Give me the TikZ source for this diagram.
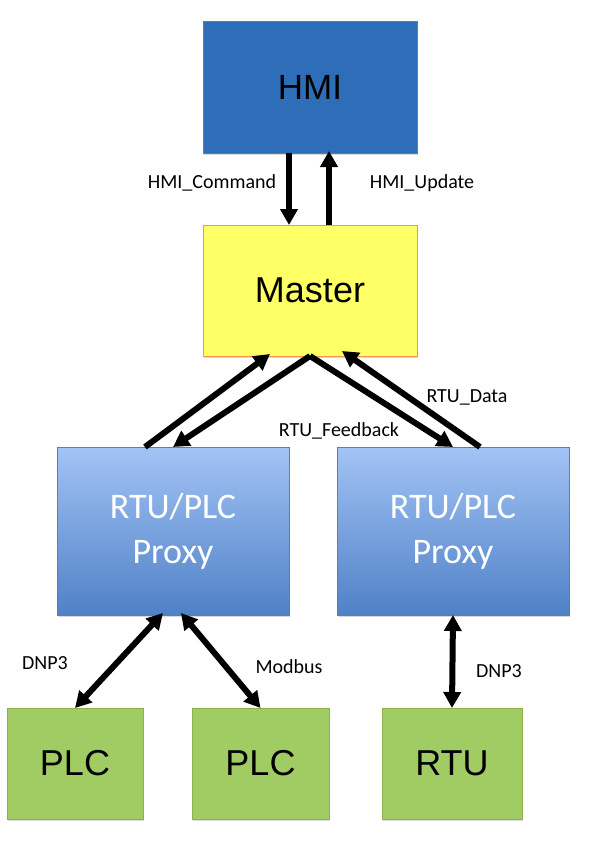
\documentclass[tikz,border=0pt]{standalone}
\usepackage{fontspec}
\usepackage{tikz}
\usetikzlibrary{calc,arrows.meta,shadows}
\newfontfamily\boxfont{Liberation Sans}
\newfontfamily\calfont{Carlito}
\definecolor{hmiblue}{RGB}{46,110,184}
\definecolor{hmiedge}{RGB}{79,129,189}
\definecolor{masteryellow}{RGB}{255,255,102}
\definecolor{masteredge}{RGB}{247,150,70}
\definecolor{proxytop}{RGB}{163,195,245}
\definecolor{proxybot}{RGB}{79,129,199}
\definecolor{proxyedge}{RGB}{79,129,189}
\definecolor{devgreen}{RGB}{161,203,99}
\definecolor{devedge}{RGB}{143,176,79}
\begin{document}
\begin{tikzpicture}[x=1pt,y=-1pt,
    box/.style={rectangle,inner sep=0pt,outer sep=0pt,line width=1pt,
      drop shadow={shadow xshift=1pt,shadow yshift=-2pt,opacity=.3}},
    big/.style={font=\boxfont\fontsize{36}{40}\selectfont},
    conn/.style={line width=6pt,-{Triangle[length=16pt,width=17pt]}},
    bothconn/.style={line width=6pt,{Triangle[length=16pt,width=17pt]}-{Triangle[length=16pt,width=17pt]}},
    lbl/.style={font=\calfont\fontsize{20}{23}\selectfont,inner sep=0pt}]
                 \useasboundingbox (0,0) rectangle (612,846);
                 % boxes
                 \node[box,draw=hmiedge,fill=hmiblue,minimum width=214pt,minimum height=132pt,big,font=\boxfont\fontsize{35}{40}\selectfont](hmi)at(310,87){HMI};
                 \node[box,draw=masteredge,fill=masteryellow,minimum width=214pt,minimum height=131pt,big](master)at(310,290.5){Master};
                 \node[box,draw=proxyedge,top color=proxytop,bottom color=proxybot,minimum width=232pt,minimum height=168pt,
                   text=white,align=center,font=\calfont\fontsize{36}{45}\selectfont](proxyl)at(173,531){RTU/PLC\\Proxy};
                 \node[box,draw=proxyedge,top color=proxytop,bottom color=proxybot,minimum width=232pt,minimum height=168pt,
                   text=white,align=center,font=\calfont\fontsize{36}{45}\selectfont](proxyr)at(453,531){RTU/PLC\\Proxy};
                 \node[box,draw=devedge,fill=devgreen,minimum width=136pt,minimum height=111pt,big](plca)at(75,763.5){PLC};
                 \node[box,draw=devedge,fill=devgreen,minimum width=137pt,minimum height=111pt,big](plcb)at(260.5,763.5){PLC};
                 \node[box,draw=devedge,fill=devgreen,minimum width=140pt,minimum height=111pt,big](rtu)at(452,763.5){RTU};
                 % HMI <-> Master
                 \draw[conn]([xshift=-21pt]hmi.south)--([xshift=-21pt]master.north);
                 \draw[conn]([xshift=19pt]master.north)--([xshift=19pt,yshift=2pt]hmi.south);
                 % Master <-> proxies
                 \draw[conn]([xshift=-28pt]proxyl.north)--([xshift=-40pt,yshift=2pt]master.south);
                 \draw[conn](master.south)--(proxyl.north);
                 \draw[conn](master.south)--(proxyr.north);
                 \draw[conn]([xshift=27pt]proxyr.north)--([xshift=32pt,yshift=5pt]master.south);
                 % proxies <-> devices
                 \draw[bothconn]([xshift=-10pt,yshift=2pt]proxyl.south)--(plca.north);
                 \draw[bothconn]([xshift=8pt,yshift=2pt]proxyl.south)--(plcb.north);
                 \draw[bothconn](proxyr.south)--(rtu.north);
                 % labels
                 \node[lbl](cmd)at(212,183){HMI\_Command};
                 \node[lbl](upd)at(422,183){HMI\_Update};
                 \node[lbl](fb)at(339,431){RTU\_Feedback};
                 \node[lbl](dat)at(467,397){RTU\_Data};
                 \node[lbl](dnpa)at(45,663){DNP3};
                 \node[lbl](mod)at(289,667){Modbus};
                 \node[lbl](dnpb)at(499,671){DNP3};
               \end{tikzpicture}
\end{document}
